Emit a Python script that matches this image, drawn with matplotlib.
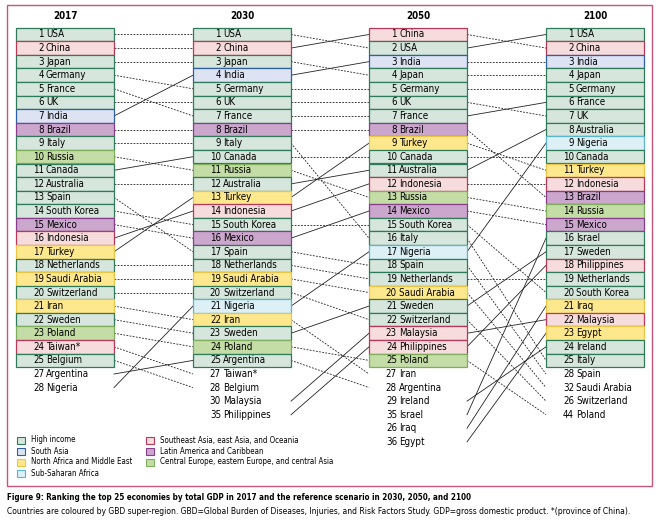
import matplotlib.pyplot as plt
from matplotlib.patches import Rectangle

plt.rcParams["font.family"] = ["DejaVu Sans"]
plt.rcParams["font.stretch"] = "condensed"

years = ["2017", "2030", "2050", "2100"]

top_2017 = ["USA", "China", "Japan", "Germany", "France", "UK", "India", "Brazil",
            "Italy", "Russia", "Canada", "Australia", "Spain", "South Korea", "Mexico",
            "Indonesia", "Turkey", "Netherlands", "Saudi Arabia", "Switzerland", "Iran",
            "Sweden", "Poland", "Taiwan*", "Belgium"]
top_2030 = ["USA", "China", "Japan", "India", "Germany", "UK", "France", "Brazil",
            "Italy", "Canada", "Russia", "Australia", "Turkey", "Indonesia", "South Korea",
            "Mexico", "Spain", "Netherlands", "Saudi Arabia", "Switzerland", "Nigeria",
            "Iran", "Sweden", "Poland", "Argentina"]
top_2050 = ["China", "USA", "India", "Japan", "Germany", "UK", "France", "Brazil",
            "Turkey", "Canada", "Australia", "Indonesia", "Russia", "Mexico", "South Korea",
            "Italy", "Nigeria", "Spain", "Netherlands", "Saudi Arabia", "Sweden",
            "Switzerland", "Malaysia", "Philippines", "Poland"]
top_2100 = ["USA", "China", "India", "Japan", "Germany", "France", "UK", "Australia",
            "Nigeria", "Canada", "Turkey", "Indonesia", "Brazil", "Russia", "Mexico",
            "Israel", "Sweden", "Philippines", "Netherlands", "South Korea", "Iraq",
            "Malaysia", "Egypt", "Ireland", "Italy"]

extra_2017 = ["Argentina", "Nigeria"]
extra_rank_2017 = [27, 28]
extra_2030 = ["Taiwan*", "Belgium", "Malaysia", "Philippines"]
extra_rank_2030 = [27, 28, 30, 35]
extra_2050 = ["Iran", "Argentina", "Ireland", "Israel", "Iraq", "Egypt"]
extra_rank_2050 = [27, 28, 29, 35, 26, 36]
extra_2100 = ["Spain", "Saudi Arabia", "Switzerland", "Poland"]
extra_rank_2100 = [28, 32, 26, 44]

high_income = ["USA", "Japan", "Germany", "France", "UK", "Italy", "Canada", "Australia",
               "Spain", "South Korea", "Netherlands", "Switzerland", "Sweden", "Belgium",
               "Argentina", "Israel", "Ireland"]
se_asia = ["China", "Indonesia", "Taiwan*", "Malaysia", "Philippines"]
south_asia = ["India"]
latin_america = ["Brazil", "Mexico"]
mena = ["Turkey", "Saudi Arabia", "Iran", "Iraq", "Egypt"]
ssa = ["Nigeria"]
central_europe = ["Russia", "Poland"]

# (fill, edge)
colours = {
    "high": ("#d6e6dc", "#2f7a58"),
    "south": ("#dde3f3", "#2c5fa8"),
    "mena": ("#fde88e", "#e9c548"),
    "ssa": ("#dcf0f6", "#5ab6cf"),
    "se": ("#f6dcdc", "#b8385a"),
    "latam": ("#cba7cd", "#8a3c8c"),
    "ce": ("#c4dca6", "#7fae5c"),
}
groups = [(high_income, "high"), (south_asia, "south"), (mena, "mena"), (ssa, "ssa"),
          (se_asia, "se"), (latin_america, "latam"), (central_europe, "ce")]
region = {}
for names, key in groups:
    for n in names:
        region[n] = key

tops = [top_2017, top_2030, top_2050, top_2100]
extras = [(extra_2017, extra_rank_2017), (extra_2030, extra_rank_2030),
          (extra_2050, extra_rank_2050), (extra_2100, extra_rank_2100)]

col_x = [16, 193, 369, 546]
box_w = 98
top_y = 27.7
row_h = 13.58
fs = 7

fig = plt.figure(figsize=(6.59, 5.29), dpi=100)
ax = fig.add_axes([0, 0, 1, 1])
ax.set_xlim(0, 659)
ax.set_ylim(529, 0)
ax.axis("off")
renderer = fig.canvas.get_renderer()


def fit_width(txt, width_px):
    # shrink a text so it spans about the same width as in the reference
    w = txt.get_window_extent(renderer).width
    txt.set_fontsize(txt.get_fontsize() * width_px / w)


ax.add_patch(Rectangle((7, 5), 645, 481, fill=False, edgecolor="#c4557d", lw=1.0))


def slot_y(slot):
    return top_y + (slot - 0.5) * row_h


# columns
positions = []
for c, year in enumerate(years):
    x0 = col_x[c]
    ax.text(x0 + box_w / 2, 16, year, ha="center", va="center", fontsize=fs,
            fontweight="bold")
    pos = {}
    for i, name in enumerate(tops[c]):
        fill, edge = colours[region[name]]
        y = top_y + i * row_h
        ax.add_patch(Rectangle((x0, y), box_w, row_h, facecolor=fill, edgecolor=edge,
                               lw=0.9, zorder=2))
        ax.text(x0 + 28, y + row_h / 2, str(i + 1), ha="right", va="center",
                fontsize=fs, zorder=3)
        ax.text(x0 + 30, y + row_h / 2, name, ha="left", va="center",
                fontsize=fs, zorder=3)
        pos[name] = (i + 1, slot_y(i + 1))
    names, ranks = extras[c]
    for j, (name, rk) in enumerate(zip(names, ranks)):
        yc = slot_y(26 + j)
        ax.text(x0 + 28, yc, str(rk), ha="right", va="center", fontsize=fs)
        ax.text(x0 + 30, yc, name, ha="left", va="center", fontsize=fs)
        pos[name] = (rk, yc)
    positions.append(pos)

# connecting lines: solid when a country moves up, dashed otherwise
for c in range(3):
    a, b = positions[c], positions[c + 1]
    for name, (rk_a, ya) in a.items():
        if name not in b:
            continue
        rk_b, yb = b[name]
        if rk_b < rk_a:
            ls = "-"
        else:
            ls = (0, (2.2, 1.6))
        ax.plot([col_x[c] + box_w, col_x[c + 1]], [ya, yb], color="#222222",
                lw=0.6, ls=ls, zorder=1)

# legend
legend_items = [
    ("high", "High income", 17, 440),
    ("south", "South Asia", 17, 451),
    ("mena", "North Africa and Middle East", 17, 462),
    ("ssa", "Sub-Saharan Africa", 17, 473),
    ("se", "Southeast Asia, east Asia, and Oceania", 146, 440),
    ("latam", "Latin America and Caribbean", 146, 451),
    ("ce", "Central Europe, eastern Europe, and central Asia", 146, 462),
]
legend_scale = None
for key, label, lx, ly in legend_items:
    fill, edge = colours[key]
    ax.add_patch(Rectangle((lx, ly - 3.5), 8, 7, facecolor=fill, edgecolor=edge, lw=0.8))
    t = ax.text(lx + 14, ly, label, ha="left", va="center", fontsize=fs)
    if label.startswith("Central"):
        fit_width(t, 173)
        legend_fs = t.get_fontsize()
for t in ax.texts[-7:]:
    t.set_fontsize(legend_fs)

cap1 = ax.text(7, 498, "Figure 9: Ranking the top 25 economies by total GDP in 2017 and the "
               "reference scenario in 2030, 2050, and 2100", ha="left", va="center",
               fontsize=fs, fontweight="bold")
cap2 = ax.text(7, 512, "Countries are coloured by GBD super-region. GBD=Global Burden of "
               "Diseases, Injuries, and Risk Factors Study. GDP=gross domestic product. "
               "*(province of China).", ha="left", va="center", fontsize=fs)
fit_width(cap1, 459)
fit_width(cap2, 625)

fig.savefig("out.png", dpi=100)
